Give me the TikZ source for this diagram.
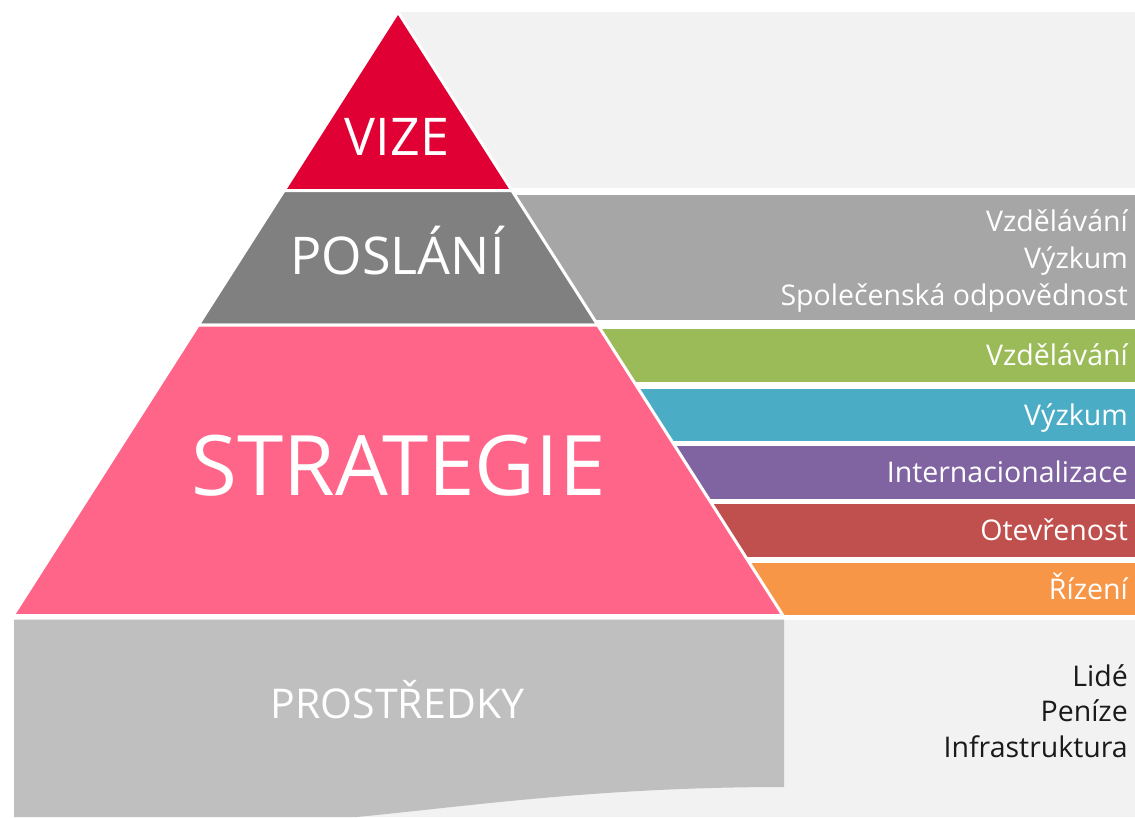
\documentclass[tikz,border=0pt]{standalone}
\usepackage{fontspec}
\setmainfont{Open Sans}
\definecolor{vizered}{RGB}{224,0,52}
\definecolor{poslanigray}{RGB}{128,128,128}
\definecolor{missiongray}{RGB}{166,166,166}
\definecolor{lightbg}{RGB}{242,242,242}
\definecolor{strategypink}{RGB}{255,101,137}
\definecolor{edugreen}{RGB}{155,187,89}
\definecolor{researchblue}{RGB}{75,172,198}
\definecolor{intpurple}{RGB}{128,100,162}
\definecolor{openred}{RGB}{192,80,77}
\definecolor{mgmtorange}{RGB}{247,150,70}
\definecolor{resgray}{RGB}{191,191,191}
\definecolor{restext}{RGB}{26,26,26}

\begin{document}
\begin{tikzpicture}[x=1pt,y=-1pt,
    tier/.style={draw=white,line width=3pt,line join=round},
    tierlabel/.style={text=white,inner sep=0pt,anchor=base},
    sidelabel/.style={text=white,inner sep=0pt,anchor=base east,font=\fontsize{28.5}{33}\selectfont}]
        \useasboundingbox (0,0) rectangle (1135,817);
        % grey backgrounds
        \fill[lightbg] (400,12) rectangle (1135,188);
        \fill[lightbg] (14,619.5) rectangle (1135,817);
        % bands to the right of the pyramid
        \fill[missiongray] (450,195) rectangle (1135,320);
        \fill[edugreen] (560,329) rectangle (1135,382);
        \fill[researchblue] (560,389) rectangle (1135,441);
        \fill[intpurple] (560,446) rectangle (1135,499);
        \fill[openred] (560,504) rectangle (1135,557);
        \fill[mgmtorange] (560,563) rectangle (1135,615);
        % pyramid tiers
        \filldraw[tier,fill=vizered] (398,12) -- (511.9,190.5) -- (284.1,190.5) -- cycle;
        \filldraw[tier,fill=poslanigray] (284.1,190.5) -- (511.9,190.5) -- (597.7,325) -- (198.3,325) -- cycle;
        \filldraw[tier,fill=strategypink] (198.3,325) -- (597.7,325) -- (783,615.5) -- (13,615.5) -- cycle;
        % resources block
        \fill[resgray] (14,619.5) -- (784,619.5) -- (784,787) .. controls (600,787) and (470,806) .. (357,817) -- (14,817) -- cycle;

        \node[tierlabel,font=\fontsize{52}{60}\selectfont] (vize) at (397,155) {VIZE};
        \node[tierlabel,font=\fontsize{52}{60}\selectfont] (poslani) at (397.5,274) {POSLÁNÍ};
        \node[tierlabel,font=\fontsize{83.5}{90}\selectfont] (strategie) at (398.5,495) {STRATEGIE};
        \node[tierlabel,font=\fontsize{41}{48}\selectfont] (prostredky) at (397.5,718) {PROSTŘEDKY};

        \node[sidelabel] (misedu) at (1128,231.5) {Vzdělávání};
        \node[sidelabel] (misres) at (1128,268.5) {Výzkum};
        \node[sidelabel] (missoc) at (1128,305) {Společenská odpovědnost};

        \node[sidelabel] (edu) at (1128,365.5) {Vzdělávání};
        \node[sidelabel] (res) at (1128,425) {Výzkum};
        \node[sidelabel] (intl) at (1128,482.5) {Internacionalizace};
        \node[sidelabel] (open) at (1128,540.5) {Otevřenost};
        \node[sidelabel] (mgmt) at (1128,599) {Řízení};

        \node[sidelabel,text=restext] (people) at (1128,686) {Lidé};
        \node[sidelabel,text=restext] (money) at (1128,721.5) {Peníze};
        \node[sidelabel,text=restext] (infra) at (1128,757) {Infrastruktura};
    \end{tikzpicture}
\end{document}
